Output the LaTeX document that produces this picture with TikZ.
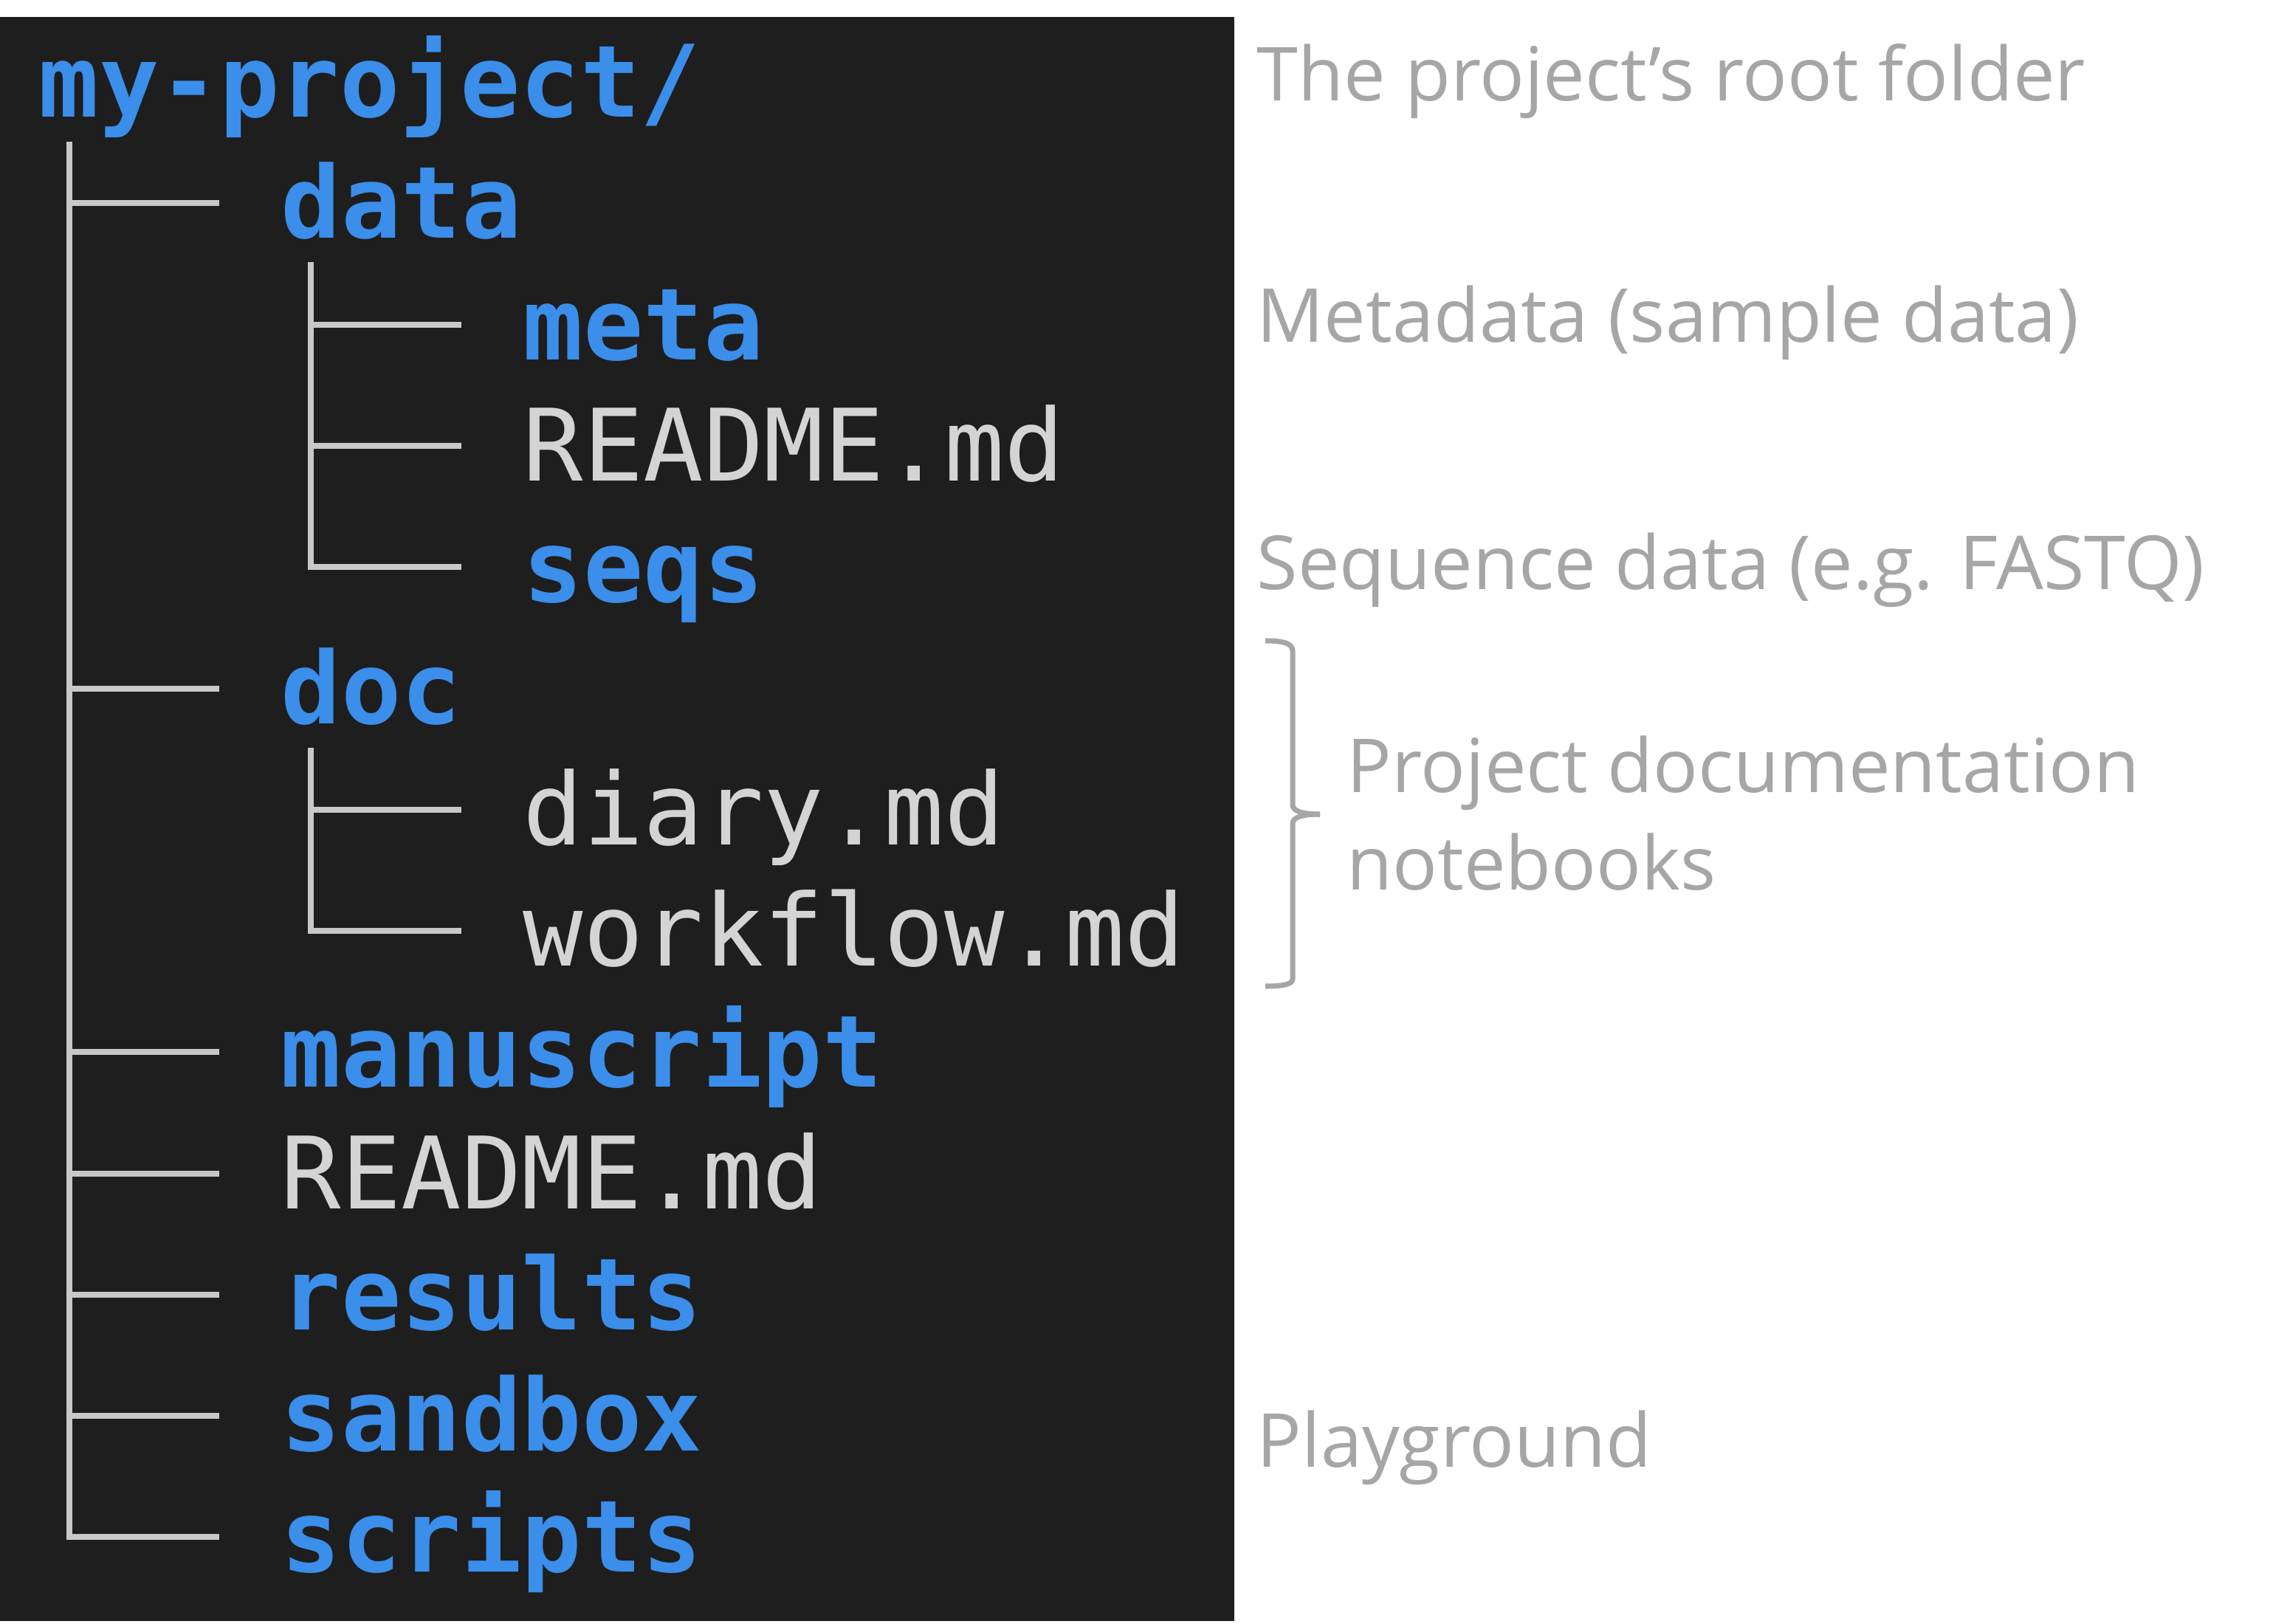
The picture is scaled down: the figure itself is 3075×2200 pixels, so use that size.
\documentclass[tikz,border=0pt]{standalone}
\usepackage{fontspec}
\setmainfont{Open Sans}
\setmonofont{DejaVu Sans Mono}
\usepackage{xcolor}
\usetikzlibrary{positioning}

\definecolor{panelbg}{HTML}{1E1E1E}
\definecolor{dirblue}{HTML}{3B8EEA}
\definecolor{filewhite}{HTML}{D4D4D4}
\definecolor{linegray}{HTML}{C8C8C8}
\definecolor{notegray}{HTML}{A6A6A6}

\newcommand{\treefont}{\fontsize{38.5}{40}\selectfont\ttfamily}

\tikzset{
  entry/.style={anchor=west, inner sep=0pt, text height=34.8pt, text depth=8pt},
  dir/.style={entry, text=dirblue, font=\treefont\bfseries},
  file/.style={entry, text=filewhite, font=\treefont},
  branch/.style={draw=linegray, line width=2.2pt},
  note/.style={anchor=base west, inner sep=0pt, text=notegray, align=left,
    font=\fontsize{28.7}{37.5}\selectfont},
  brace/.style={draw=notegray, line width=2pt}
}

\begin{document}
\begin{tikzpicture}[x=0.01cm, y=-0.01cm]
    \useasboundingbox (0,0) rectangle (3075,2200);
    % terminal panel
    \fill[panelbg] (0,23) rectangle (1672,2196);

    % Tree entries
    \node[dir] (root) at (52,111) {my-project/};
    \node[dir] (data) at (380,275) {data};
    \node[dir] (meta) at (708,440) {meta};
    \node[file] (datareadme) at (708,604) {README.md};
    \node[dir] (seqs) at (708,768) {seqs};
    \node[dir] (doc) at (380,933) {doc};
    \node[file] (diary) at (708,1097) {diary.md};
    \node[file] (workflow) at (708,1261) {workflow.md};
    \node[dir] (manuscript) at (380,1425) {manuscript};
    \node[file] (readme) at (380,1590) {README.md};
    \node[dir] (results) at (380,1754) {results};
    \node[dir] (sandbox) at (380,1918) {sandbox};
    \node[dir] (scripts) at (380,2082) {scripts};

    % Trunks
    \coordinate (trunk) at (94,192);
    \coordinate (datatrunk) at (421,355);
    \coordinate (doctrunk) at (421,1013);

    % Branches
    \draw[branch] (trunk) |- ([xshift=-0.83cm]scripts.west);
    \foreach \n in {data,doc,manuscript,readme,results,sandbox}
        \draw[branch] (trunk |- \n.west) -- ([xshift=-0.83cm]\n.west);
    \draw[branch] (datatrunk) |- ([xshift=-0.83cm]seqs.west);
    \foreach \n in {meta,datareadme}
        \draw[branch] (datatrunk |- \n.west) -- ([xshift=-0.83cm]\n.west);
    \draw[branch] (doctrunk) |- ([xshift=-0.83cm]workflow.west);
    \draw[branch] (doctrunk |- diary.west) -- ([xshift=-0.83cm]diary.west);

    % Notes
    \node[note] (rootnote) at (1702,137) {The project’s root folder};
    \node[note] (metanote) at (1702,463) {Metadata (sample data)};
    \node[note] (seqsnote) at (1702,798) {Sequence data (e.g. FASTQ)};
    \node[note] (docnote) at (1824,1205) {Project documentation\\notebooks};
    \node[note] (sandboxnote) at (1702,1987) {Playground};

    % Brace for the doc folder
    \coordinate (bracetip) at (1788,1103);
    \draw[brace] (1714,868) .. controls (1740,868) and (1751,872) .. (1751,882)
        -- (1751,1090) .. controls (1751,1099) and (1764,1103) .. (bracetip);
    \draw[brace] (bracetip) .. controls (1764,1103) and (1751,1107) .. (1751,1116)
        -- (1751,1326) .. controls (1751,1333) and (1740,1336) .. (1714,1336);
\end{tikzpicture}
\end{document}
